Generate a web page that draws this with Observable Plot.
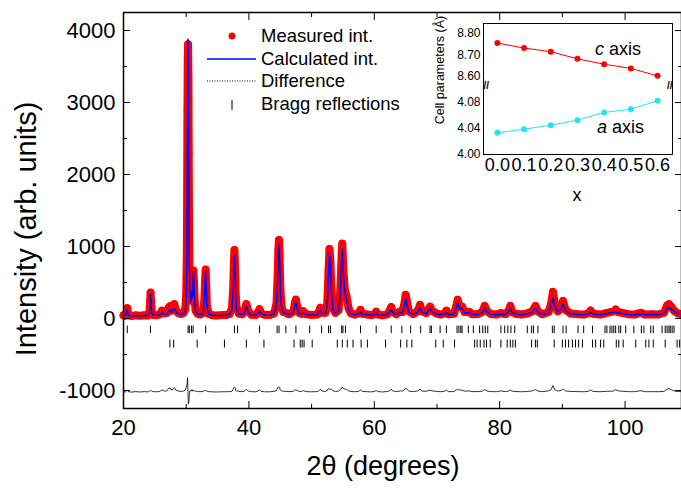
<!DOCTYPE html>
<html><head><meta charset="utf-8">
<script src="https://cdn.jsdelivr.net/npm/d3@7"></script>
<script src="https://cdn.jsdelivr.net/npm/@observablehq/plot@0.6"></script>
<style>
body{margin:0;background:#fff;}
#wrap{position:relative;width:681px;height:488px;overflow:hidden;font-family:"Liberation Sans",Arial,sans-serif;}
#wrap svg{position:absolute;overflow:visible;}
</style></head><body><div id="wrap"></div>
<script>
// ---- data: [2theta, measured, calculated] ----
const profileLow = [
[20.0,44,40],[20.3,38,40],[20.45,60,52],[20.55,120,100],[20.62,145,125],[20.7,80,70],[20.85,45,42],[21.3,36,39],[21.9,44,39],[22.6,38,39],[23.3,45,40],[23.9,42,42],
[24.15,90,80],[24.25,250,230],[24.32,360,345],[24.4,220,200],[24.5,90,80],[24.75,50,46],[25.3,46,44],[25.8,60,52],[26.15,110,80],[26.5,70,58],[26.9,78,64],
[27.2,150,100],[27.4,170,115],[27.65,110,85],[27.9,150,115],[28.1,200,140],[28.35,120,95],[28.7,75,62],[29.2,62,55],[29.6,80,66],[29.85,130,105],
[30.0,320,260],[30.1,900,800],[30.15,1700,1600],[30.2,2900,2700],[30.25,3600,3450],[30.3,3810,3880],[30.35,3350,3520],[30.4,2300,2450],[30.45,1300,1420],
[30.5,720,760],[30.6,380,360],[30.7,250,235],[30.8,300,280],[30.88,420,390],[30.95,300,290],[31.05,360,330],[31.15,665,650],[31.25,500,480],[31.35,240,225],
[31.5,110,100],[31.8,70,62],[32.2,55,52],[32.7,75,68],[32.9,250,230],[33.0,520,500],[33.1,680,660],[33.2,450,430],[33.3,170,160],[33.6,62,58],[34.2,46,45],[34.8,42,43]
];
const profileMid = [
[35.5,45,43],[36.3,48,45],[36.9,62,58],[37.3,140,130],[37.5,420,380],[37.6,780,720],[37.7,950,880],[37.8,700,640],[37.9,320,300],[38.05,140,130],[38.2,115,100],
[38.4,68,62],[38.9,58,54],[39.3,100,88],[39.6,200,165],[39.9,100,88],[40.4,52,48],[41.1,48,46],[41.45,85,72],[41.7,130,100],[41.95,70,62],[42.5,52,50],[43.3,48,46],
[44.0,70,62],[44.4,200,180],[44.6,620,560],[44.7,960,900],[44.8,1090,1020],[44.9,850,790],[45.0,450,420],[45.2,170,155],[45.5,90,80],[45.9,80,72],[46.4,58,54],
[47.1,95,85],[47.35,220,190],[47.5,262,232],[47.7,170,150],[48.0,80,72],[48.4,65,60],[48.7,100,80],[49.1,58,54],[50.0,48,46],[50.9,55,50],[51.15,90,75],
[51.4,150,112],[51.65,80,68],[52.2,80,72],[52.5,200,180],[52.7,650,600],[52.85,965,925],[53.0,800,760],[53.15,420,380],[53.4,140,125],[53.8,80,72],
[54.3,115,105],[54.6,400,360],[54.8,900,850],[54.9,1040,970],[55.05,700,650],[55.3,400,360],[55.6,300,265],[55.9,140,125],[56.3,70,64],[56.9,55,52],
[57.5,70,62],[57.8,120,92],[58.1,65,58],[58.9,55,52],[59.6,46,45]
];
const profileHigh = [
[60.05,60,52],[60.3,95,75],[60.55,55,50],[61.3,44,44],[62.1,58,52],[62.45,110,95],[62.7,160,122],[62.95,100,85],[63.5,58,54],[64.15,100,85],[64.45,90,78],
[64.8,200,170],[65.0,330,280],[65.2,240,200],[65.5,100,88],[66.2,62,58],[66.9,100,85],[67.3,190,152],[67.6,100,88],[68.3,75,66],[68.9,165,140],[69.2,110,95],
[69.9,70,62],[70.6,55,52],[71.25,72,62],[71.5,110,82],[71.8,60,55],[72.7,65,60],[73.1,180,150],[73.3,260,222],[73.6,165,140],[74.0,165,140],[74.4,90,80],
[75.1,95,80],[75.6,60,55],[76.5,62,57],[77.2,90,80],[77.6,175,142],[78.0,100,88],[78.6,62,57],[79.5,55,52],[80.2,75,60],[80.9,60,56],[81.4,100,88],
[81.7,175,150],[82.0,90,78],[82.6,65,60],[83.5,55,52],[84.4,70,64],[85.2,100,85],[85.7,175,142],[86.1,100,88],[86.8,60,56],[87.8,90,75],[88.2,200,170],
[88.5,370,282],[88.8,200,170],[89.3,100,88],[89.8,160,140],[90.1,245,202],[90.5,120,105],[91.3,70,63],[92.5,60,56],[93.5,55,52],[94.2,75,65],[94.5,110,82],
[94.9,65,58],[96.0,55,52],[97.0,75,66],[97.7,90,80],[98.2,100,86],[98.5,125,92],[98.9,90,76],[99.7,75,66],[100.5,60,56],[101.5,55,52],[102.5,80,62],
[103.2,55,52],[104.3,60,56],[105.3,55,52],[106.2,80,72],[106.7,180,142],[107.0,200,152],[107.4,160,130],[107.9,100,88],[108.5,70,64],[109.0,62,58]
];
// Bragg reflection positions (2theta), two phases
const braggPhase1 = [20.6,24.3,30.3,30.5,30.85,31.1,33.1,37.7,38.2,41.7,44.5,44.8,45.9,47.5,49.7,51.6,52.7,53.0,54.8,55.0,55.4,57.8,60.3,62.7,
64.4,65.8,67.4,68.9,69.1,70.5,71.5,73.2,73.5,73.8,74.0,75.0,75.8,76.8,77.3,77.7,78.1,80.2,80.8,81.3,81.8,82.4,84.4,85.1,85.4,86.1,88.4,88.7,90.1,90.6,
92.5,93.4,94.8,96.8,97.1,97.6,97.9,98.2,98.5,99.0,99.3,100.1,101.4,102.6,103.0,104.1,104.5,105.9,106.4,106.7,107.0,107.2,107.5,107.8];
const braggPhase2 = [27.4,28.0,31.75,36.1,39.6,42.4,47.2,48.2,48.5,48.8,50.1,54.1,54.9,55.7,56.6,57.9,58.9,61.8,64.2,65.2,66.0,69.8,71.0,72.8,76.0,76.4,
76.9,77.5,77.9,78.5,80.2,81.2,81.7,82.1,82.5,85.1,85.7,86.0,88.7,90.0,90.5,91.0,91.6,92.1,92.6,93.2,94.8,95.3,96.1,96.6,98.6,99.0,99.7,101.7,103.3,
103.8,104.5,106.4,108.3,108.7];
const diffOffset = -1020;
const braggRow1 = [-105, -210];
const braggRow2 = [-300, -410];
const xMajor = [20, 40, 60, 80, 100];
const xMinor = [30, 50, 70, 90];
const yMajor = [-1000, 0, 1000, 2000, 3000, 4000];
const yMinor = [-500, 500, 1500, 2500, 3500];
// inset: cell parameters
const cellX = [0, 0.1, 0.2, 0.3, 0.4, 0.5, 0.6];
const cAxis = [8.755, 8.732, 8.715, 8.682, 8.657, 8.637, 8.603];
const aAxis = [4.0334, 4.0389, 4.0451, 4.0528, 4.0646, 4.0697, 4.0826];
const cTicks = [8.60, 8.70, 8.80];
const aTicks = [4.00, 4.04, 4.08];

const FONT = '"Liberation Sans", Arial, sans-serif';
const rows = [...profileLow, ...profileMid, ...profileHigh].map(([t, o, c]) => ({t, o, c, d: o - c + diffOffset}));
const blank = () => "";
const wrap = document.getElementById("wrap");

const main = Plot.plot({
  width: 681, height: 488,
  marginLeft: 123, marginRight: 0, marginTop: 12, marginBottom: 80,
  x: {domain: [20, 109], label: null},
  y: {domain: [-1250, 4250], label: null},
  style: {fontFamily: FONT, background: "transparent", color: "black"},
  marks: [
    Plot.line(rows, {x: "t", y: "o", stroke: "#ff0000", strokeWidth: 8, strokeLinejoin: "round", strokeLinecap: "round"}),
    Plot.dot(rows, {x: "t", y: "o", r: 3.8, fill: "#ff0000"}),
    Plot.line(rows, {x: "t", y: "c", stroke: "#0000ff", strokeWidth: 1.5}),
    Plot.ruleX(braggPhase1, {x: d => d, y1: braggRow1[0], y2: braggRow1[1], stroke: "black", strokeWidth: 1}),
    Plot.ruleX(braggPhase2, {x: d => d, y1: braggRow2[0], y2: braggRow2[1], stroke: "black", strokeWidth: 1}),
    Plot.line(rows, {x: "t", y: "d", stroke: "black", strokeWidth: 0.8}),
    Plot.frame({stroke: "black", strokeWidth: 1.5}),
    Plot.axisX({ticks: xMajor, tickSize: -7, tickFormat: blank, label: null}),
    Plot.axisX({ticks: xMinor, tickSize: -4, tickFormat: blank, label: null}),
    Plot.axisX({anchor: "top", ticks: xMajor, tickSize: -7, tickFormat: blank, label: null}),
    Plot.axisX({anchor: "top", ticks: xMinor, tickSize: -4, tickFormat: blank, label: null}),
    Plot.axisY({ticks: yMajor, tickSize: -7, tickFormat: blank, label: null}),
    Plot.axisY({ticks: yMinor, tickSize: -4, tickFormat: blank, label: null}),
    Plot.axisY({anchor: "right", ticks: yMajor, tickSize: -7, tickFormat: blank, label: null}),
    Plot.axisY({anchor: "right", ticks: yMinor, tickSize: -4, tickFormat: blank, label: null}),
    Plot.axisX({ticks: xMajor, tickSize: 0, tickPadding: 11, fontSize: 22, tickFormat: d => String(d), label: null}),
    Plot.axisY({ticks: yMajor, tickSize: 0, tickPadding: 8, fontSize: 22, tickFormat: d => String(d), label: null})
  ]
});
main.style.left = "0px"; main.style.top = "0px";
wrap.appendChild(main);

// inset with broken y axis: two stacked panels sharing x
const cRows = cellX.map((x, i) => ({x, v: cAxis[i]}));
const aRows = cellX.map((x, i) => ({x, v: aAxis[i]}));
const insetX = {domain: [-0.052, 0.656], label: null};
const insetStyle = {fontFamily: FONT, background: "transparent", color: "black"};
const breakMark = anchor => Plot.text(["//"], {frameAnchor: anchor, text: d => d, fontSize: 10, fontWeight: "bold"});

const insetTop = Plot.plot({
  width: 261, height: 88,
  marginLeft: 63, marginRight: 9, marginTop: 23, marginBottom: 0,
  x: insetX,
  y: {domain: [8.544, 8.846], label: null},
  style: insetStyle,
  marks: [
    Plot.frame({anchor: "top", stroke: "black"}),
    Plot.frame({anchor: "left", stroke: "black"}),
    Plot.frame({anchor: "right", stroke: "black"}),
    Plot.line(cRows, {x: "x", y: "v", stroke: "#ff0000", strokeWidth: 1}),
    Plot.dot(cRows, {x: "x", y: "v", r: 3, fill: "#ff0000"}),
    Plot.axisY({ticks: cTicks, tickFormat: ".2f", tickSize: 0, tickPadding: 3, fontSize: 12, label: null}),
    Plot.axisX({ticks: [], label: null}),
    breakMark("bottom-left"), breakMark("bottom-right")
  ]
});
insetTop.style.left = "420px"; insetTop.style.top = "0px";
wrap.appendChild(insetTop);

const insetBottom = Plot.plot({
  width: 261, height: 122,
  marginLeft: 63, marginRight: 9, marginTop: 0, marginBottom: 56,
  x: insetX,
  y: {domain: [4.0, 4.1015], label: null},
  style: insetStyle,
  marks: [
    Plot.frame({anchor: "bottom", stroke: "black"}),
    Plot.frame({anchor: "left", stroke: "black"}),
    Plot.frame({anchor: "right", stroke: "black"}),
    Plot.line(aRows, {x: "x", y: "v", stroke: "#22e4f0", strokeWidth: 1}),
    Plot.dot(aRows, {x: "x", y: "v", r: 3, fill: "#22e4f0"}),
    Plot.axisY({ticks: aTicks, tickFormat: ".2f", tickSize: 0, tickPadding: 3, fontSize: 12, label: null}),
    Plot.axisX({ticks: cellX, tickFormat: ".1f", tickSize: 0, tickPadding: 4, fontSize: 18, label: null})
  ]
});
insetBottom.style.left = "420px"; insetBottom.style.top = "88px";
wrap.appendChild(insetBottom);

// overlay: titles, legend, annotations
const ov = d3.select("#wrap").append("svg").attr("width", 681).attr("height", 488)
  .style("left", "0px").style("top", "0px").attr("font-family", FONT);
ov.append("text").attr("x", 383).attr("y", 475).attr("text-anchor", "middle").attr("font-size", 27).text("2θ (degrees)");
ov.append("text").attr("transform", "translate(36,229) rotate(-90)").attr("text-anchor", "middle").attr("font-size", 29).text("Intensity (arb. units)");
// legend
const lg = ov.append("g").attr("font-size", 18.5);
lg.append("circle").attr("cx", 232).attr("cy", 36).attr("r", 3.5).attr("fill", "#ff0000");
lg.append("line").attr("x1", 207).attr("x2", 256).attr("y1", 59).attr("y2", 59).attr("stroke", "#0000ff").attr("stroke-width", 1.5);
lg.append("line").attr("x1", 207).attr("x2", 256).attr("y1", 81).attr("y2", 81).attr("stroke", "black").attr("stroke-width", 1).attr("stroke-dasharray", "1,1.5");
lg.append("line").attr("x1", 232).attr("x2", 232).attr("y1", 100).attr("y2", 110).attr("stroke", "black").attr("stroke-width", 1);
[["Measured int.", 42], ["Calculated int.", 65], ["Difference", 87], ["Bragg reflections", 110]].forEach(([t, y]) =>
  lg.append("text").attr("x", 261).attr("y", y).text(t));
// inset annotations
const ca = ov.append("text").attr("x", 595).attr("y", 55).attr("font-size", 18);
ca.append("tspan").attr("font-style", "italic").text("c");
ca.append("tspan").text(" axis");
const aa = ov.append("text").attr("x", 597).attr("y", 133).attr("font-size", 18);
aa.append("tspan").attr("font-style", "italic").text("a");
aa.append("tspan").text(" axis");
ov.append("text").attr("x", 577).attr("y", 201).attr("text-anchor", "middle").attr("font-size", 18).text("x");
ov.append("text").attr("transform", "translate(444,70) rotate(-90)").attr("text-anchor", "middle").attr("font-size", 12.5).text("Cell parameters (Å)");
</script></body></html>
